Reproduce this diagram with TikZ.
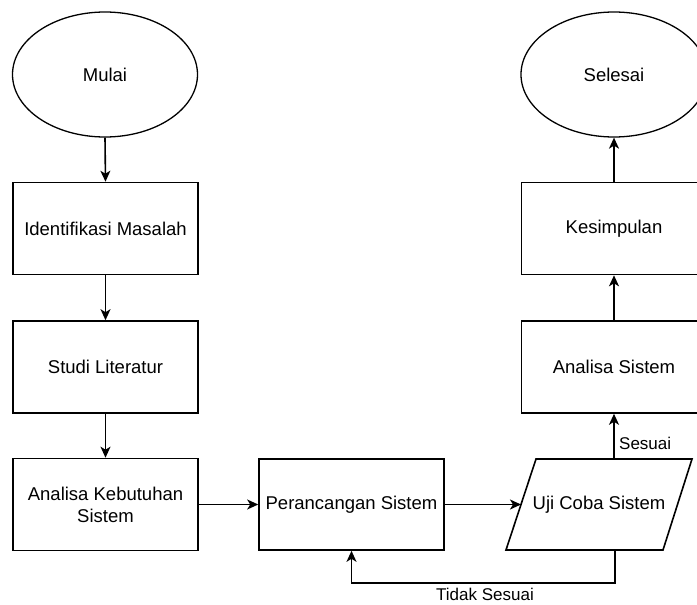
\documentclass[tikz,border=0pt]{standalone}
\usepackage{fontspec}
\setmainfont{Liberation Sans}
\usetikzlibrary{shapes.geometric,arrows.meta,calc}
\begin{document}
\begin{tikzpicture}[x=1pt,y=-1pt,
  every node/.style={font=\fontsize{18.5}{22}\selectfont},
  box/.style={draw=black,line width=1.6pt,rectangle,minimum width=185pt,minimum height=92pt,inner sep=0pt,align=center},
  oval/.style={draw=black,line width=1.3pt,ellipse,minimum width=185pt,minimum height=125pt,inner sep=0pt},
  conn/.style={line width=1.6pt,-{Stealth[length=11pt,width=10pt,inset=3pt]}},
  lbl/.style={font=\fontsize{17}{20}\selectfont,inner sep=0pt}]
\useasboundingbox (0,0) rectangle (697,605);
\clip (0,0) rectangle (697,605);
\node[oval] (mulai) at (105,74.5) {Mulai};
\node[box] (ident) at (105.5,228.5) {Identifikasi Masalah};
\node[box] (studi) at (105.5,367) {Studi Literatur};
\node[box] (kebut) at (105.5,504.5) {Analisa Kebutuhan\\Sistem};
\node[box,minimum height=91pt] (peran) at (351.5,504.5) {Perancangan Sistem};
\node[inner sep=0pt] (uji) at (599,504.5) {Uji Coba Sistem};
\draw[line width=1.6pt] (506,550) -- (536,459) -- (692,459) -- (663,550) -- cycle;
\coordinate (ujiL) at (521,504.5);
\coordinate (ujiT) at (614,459);
\coordinate (ujiB) at (615,550);
\node[box] (anal) at (614,367) {Analisa Sistem};
\node[box] (kesim) at (614,228.5) {Kesimpulan};
\node[oval,minimum width=186pt] (selesai) at (614,74.5) {Selesai};
\draw[conn] (mulai.south) -- (ident.north);
\draw[conn] (ident.south) -- (studi.north);
\draw[conn] (studi.south) -- (kebut.north);
\draw[conn] (kebut.east) -- (peran.west);
\draw[conn] (peran.east) -- (ujiL);
\draw[conn] (ujiT) -- (anal.south);
\draw[conn] (anal.north) -- (kesim.south);
\draw[conn] (kesim.north) -- (selesai.south);
\draw[conn] (ujiB) -- (615,583) -| (peran.south);
\node[lbl,anchor=west] (ls) at (619,443) {Sesuai};
\node[lbl] (lts) at (485,594.5) {Tidak Sesuai};
\end{tikzpicture}
\end{document}
